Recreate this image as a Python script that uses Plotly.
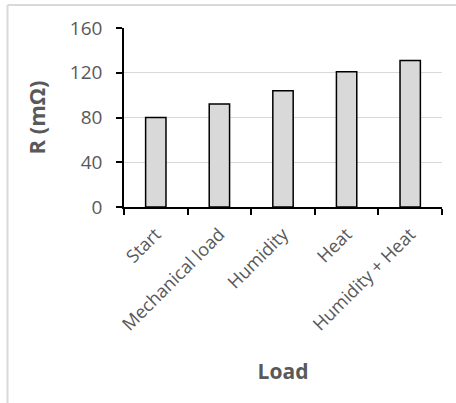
import plotly.graph_objects as go

categories = ["Start", "Mechanical load", "Humidity", "Heat", "Humidity + Heat"]
values = [80, 92, 104, 121, 131]
y_ticks = [0, 40, 80, 120, 160]

W, H = 456, 403
L, R, T, B = 124, 14, 28, 196
pw, ph = W - L - R, H - T - B

FONT = "Open Sans"
GREY = "#595959"

fig = go.Figure(go.Bar(
    x=categories, y=values,
    marker=dict(color="#d9d9d9", line=dict(color="black", width=1.5)),
    width=0.32,
))

fig.update_layout(
    width=W, height=H,
    margin=dict(l=L, r=R, t=T, b=B),
    plot_bgcolor="white", paper_bgcolor="white",
    showlegend=False,
    font=dict(family=FONT, color=GREY),
    xaxis=dict(
        title=dict(text="<b>Load</b>", font=dict(size=21, color=GREY), standoff=30),
        tickangle=-45, tickfont=dict(size=18, color=GREY), ticklabelstandoff=8,
        showline=True, linecolor="black", linewidth=1.5,
        ticks="outside", tickson="boundaries", ticklen=6, tickcolor="black", tickwidth=1.5,
        showgrid=False,
    ),
    yaxis=dict(
        title=dict(text="<b>R (mΩ)</b>", font=dict(size=22, color=GREY), standoff=18),
        range=[0, 160], tickvals=y_ticks, tickfont=dict(size=19, color=GREY),
        ticklabelstandoff=10,
        showline=True, linecolor="black", linewidth=1.5,
        ticks="outside", ticklen=6, tickcolor="black", tickwidth=1.5,
        showgrid=True, gridcolor="#d9d9d9", gridwidth=1, zeroline=False,
    ),
    shapes=[
        dict(type="line", xref="paper", yref="paper",
             x0=(7.5 - L) / pw, x1=(W - L) / pw + 0.1,
             y0=1 + (T - 5) / ph, y1=1 + (T - 5) / ph,
             line=dict(color="#d9d9d9", width=2)),
        dict(type="line", xref="paper", yref="paper",
             x0=(7.5 - L) / pw, x1=(7.5 - L) / pw,
             y0=1 + (T - 5) / ph, y1=-(H - T - ph) / ph - 0.2,
             line=dict(color="#d9d9d9", width=2)),
    ],
)

fig.write_html("out.html")
